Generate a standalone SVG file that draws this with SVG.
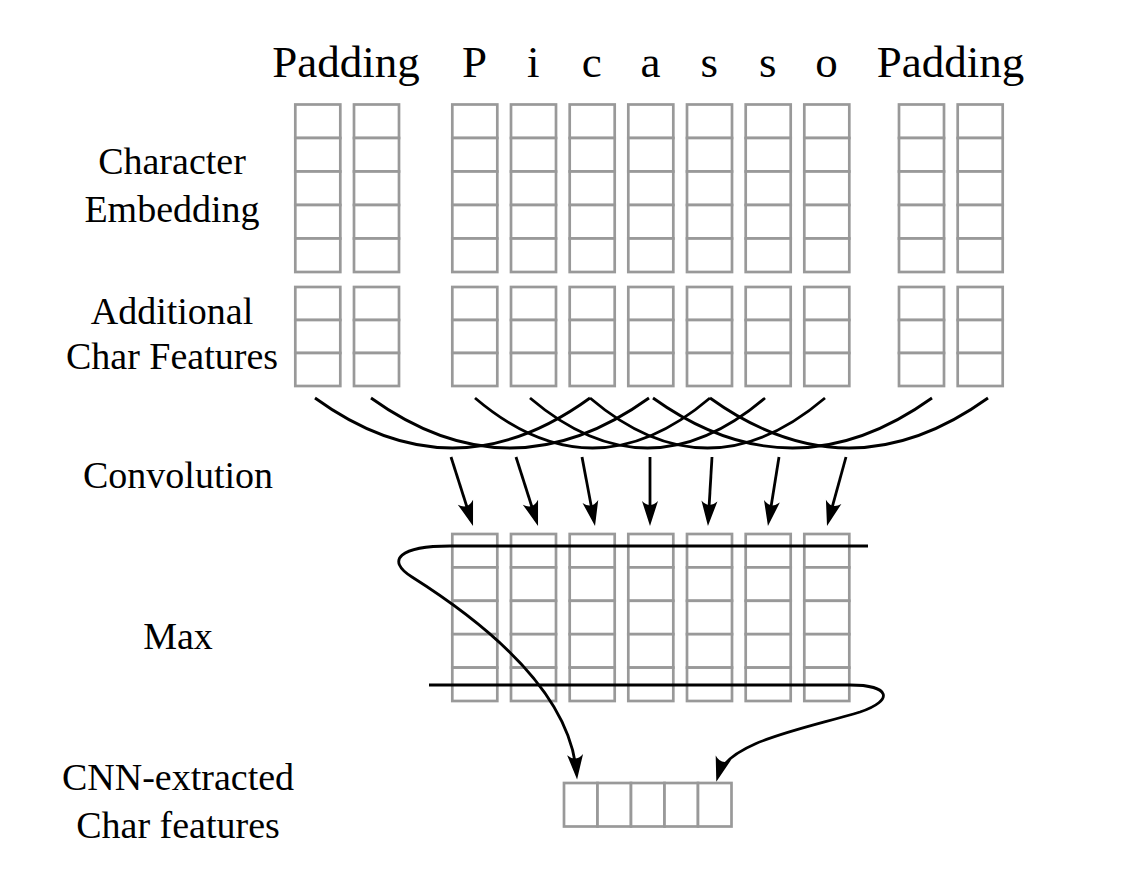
<svg xmlns="http://www.w3.org/2000/svg" xmlns:xlink="http://www.w3.org/1999/xlink" width="1124" height="882" viewBox="0 0 1124 882">
<style>
.cell{fill:#fff;stroke:#999;stroke-width:2.7}
.txt{font-family:"Liberation Serif","Times New Roman",serif;fill:#000}
.top{font-size:45px;text-anchor:middle}
.lbl{font-size:38px;text-anchor:middle}
.wire{fill:none;stroke:#000;stroke-width:2.8}
.arr{fill:none;stroke:#000;stroke-width:2.8;marker-end:url(#ah)}
</style>
<defs>
<marker id="ah" viewBox="-20 -9 27 18" refX="0" refY="0" markerWidth="27" markerHeight="18" markerUnits="userSpaceOnUse" orient="auto">
<path d="M6,0 L-19,-8 Q-11,0 -19,8 Z" fill="#000"/>
</marker>
<g id="emb">
<rect class="cell" x="0" y="104.5" width="45" height="33.5"/>
<rect class="cell" x="0" y="138" width="45" height="33.5"/>
<rect class="cell" x="0" y="171.5" width="45" height="33.5"/>
<rect class="cell" x="0" y="205" width="45" height="33.5"/>
<rect class="cell" x="0" y="238.5" width="45" height="33.5"/>
<rect class="cell" x="0" y="287" width="45" height="33"/>
<rect class="cell" x="0" y="320" width="45" height="33"/>
<rect class="cell" x="0" y="353" width="45" height="33"/>
</g>
<g id="mx">
<rect class="cell" x="0" y="534" width="45" height="33.4"/>
<rect class="cell" x="0" y="567.4" width="45" height="33.4"/>
<rect class="cell" x="0" y="600.8" width="45" height="33.4"/>
<rect class="cell" x="0" y="634.2" width="45" height="33.4"/>
<rect class="cell" x="0" y="667.6" width="45" height="33.4"/>
</g>
</defs>
<rect x="0" y="0" width="1124" height="882" fill="#fff"/>

<g id="labels" class="txt">
<text class="top" x="346" y="77">Padding</text>
<text class="top" x="474.5" y="77">P</text>
<text class="top" x="533.2" y="77">i</text>
<text class="top" x="591.8" y="77">c</text>
<text class="top" x="650.5" y="77">a</text>
<text class="top" x="709.2" y="77">s</text>
<text class="top" x="767.8" y="77">s</text>
<text class="top" x="826.5" y="77">o</text>
<text class="top" x="950.5" y="77">Padding</text>
<text class="lbl" x="172" y="174">Character</text>
<text class="lbl" x="172" y="222">Embedding</text>
<text class="lbl" x="172" y="324">Additional</text>
<text class="lbl" x="172" y="369">Char Features</text>
<text class="lbl" x="178" y="488">Convolution</text>
<text class="lbl" x="178" y="649">Max</text>
<text class="lbl" x="178" y="790">CNN-extracted</text>
<text class="lbl" x="178" y="838">Char features</text>
</g>

<g id="input-columns">
<g id="col-pad1"><use xlink:href="#emb" x="295.3"/></g>
<g id="col-pad2"><use xlink:href="#emb" x="354"/></g>
<g id="col-P"><use xlink:href="#emb" x="452.3"/></g>
<g id="col-i"><use xlink:href="#emb" x="511"/></g>
<g id="col-c"><use xlink:href="#emb" x="569.7"/></g>
<g id="col-a"><use xlink:href="#emb" x="628.3"/></g>
<g id="col-s1"><use xlink:href="#emb" x="687"/></g>
<g id="col-s2"><use xlink:href="#emb" x="745.7"/></g>
<g id="col-o"><use xlink:href="#emb" x="804.3"/></g>
<g id="col-pad3"><use xlink:href="#emb" x="899"/></g>
<g id="col-pad4"><use xlink:href="#emb" x="957.7"/></g>
</g>

<g id="conv-columns">
<g id="conv-1"><use xlink:href="#mx" x="452.3"/></g>
<g id="conv-2"><use xlink:href="#mx" x="511"/></g>
<g id="conv-3"><use xlink:href="#mx" x="569.7"/></g>
<g id="conv-4"><use xlink:href="#mx" x="628.3"/></g>
<g id="conv-5"><use xlink:href="#mx" x="687"/></g>
<g id="conv-6"><use xlink:href="#mx" x="745.7"/></g>
<g id="conv-7"><use xlink:href="#mx" x="804.3"/></g>
</g>

<g id="output">
<rect class="cell" x="564" y="783" width="33.5" height="43.5"/>
<rect class="cell" x="597.5" y="783" width="33.5" height="43.5"/>
<rect class="cell" x="631" y="783" width="33.5" height="43.5"/>
<rect class="cell" x="664.5" y="783" width="33.5" height="43.5"/>
<rect class="cell" x="698" y="783" width="33.5" height="43.5"/>
</g>

<g id="connectors">
<path class="wire" d="M315,398 Q452.5,498 590,398"/>
<path class="wire" d="M371,398 Q510,498 649,398"/>
<path class="wire" d="M475,398 Q592.5,498 710,398"/>
<path class="wire" d="M530,398 Q647.5,498 765,398"/>
<path class="wire" d="M590,398 Q707.5,498 825,398"/>
<path class="wire" d="M653,398 Q792.5,498 932,398"/>
<path class="wire" d="M710,398 Q849,498 988,398"/>
<line class="arr" x1="451" y1="457" x2="471.2" y2="520.3"/>
<line class="arr" x1="516" y1="457" x2="536.2" y2="520.3"/>
<line class="arr" x1="582" y1="457" x2="593.9" y2="520.1"/>
<line class="arr" x1="650" y1="457" x2="650" y2="520"/>
<line class="arr" x1="712" y1="457" x2="708.3" y2="520"/>
<line class="arr" x1="779" y1="457" x2="768.9" y2="520.1"/>
<line class="arr" x1="846" y1="457" x2="828.6" y2="520.2"/>
<path class="arr" d="M868,546 L450,546 C400,546 385,560 412,577 C480,620 570,690 576.6,773.5"/>
<path class="arr" d="M429,685 L850,685 C890,685 895,700 860,712 C800,730 728,742 718,776"/>
</g>
</svg>
